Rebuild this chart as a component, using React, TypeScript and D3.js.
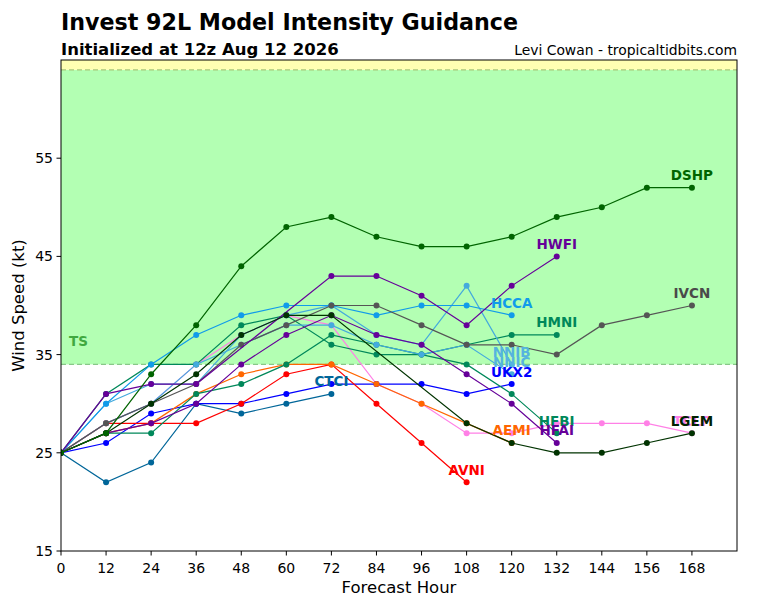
import React from "react";
import * as d3 from "d3";

const HOURS = [0, 12, 24, 36, 48, 60, 72, 84, 96, 108, 120, 132, 144, 156, 168];
const X_TICKS = [0, 12, 24, 36, 48, 60, 72, 84, 96, 108, 120, 132, 144, 156, 168];
const Y_TICKS = [15, 25, 35, 45, 55];

const TCLP = [25, 28, 30, 34, 37, 39, 38, 32, 30, 27, 27, 28, 28, 28, 27];
const CTCI = [25, 22, 24, 30, 29, 30, 31];
const UKX2 = [25, 26, 29, 30, 30, 31, 32, 32, 32, 31, 32];
const AVNI = [25, 28, 28, 28, 30, 33, 34, 30, 26, 22];
const AEMI = [25, 27, 28, 31, 33, 34, 34, 32, 30, 28, 26];
const HFBI = [25, 27, 27, 31, 32, 34, 37, 36, 35, 34, 31, 27];
const HMNI = [25, 31, 34, 34, 38, 39, 36, 35, 35, 36, 37, 37];
const NNIC = [25, 28, 30, 34, 36, 38, 38, 36, 35, 36, 33];
const NNIB = [25, 30, 32, 32, 37, 39, 40, 37, 36, 42, 34];
const HCCA = [25, 30, 34, 37, 39, 40, 40, 39, 40, 40, 39];
const IVCN = [25, 28, 30, 32, 36, 38, 40, 40, 38, 36, 36, 35, 38, 39, 40];
const HFAI = [25, 27, 28, 30, 34, 37, 39, 37, 36, 33, 30, 26];
const HWFI = [25, 31, 32, 32, null, null, 43, 43, 41, 38, 42, 45];
const LGEM = [25, 27, 30, 33, 37, 39, 39, null, null, 28, 26, 25, 25, 26, 27];
const DSHP = [25, 27, 33, 38, 44, 48, 49, 47, 46, 46, 47, 49, 50, 52, 52];

const MODELS: { name: string; values: (number | null)[]; color: string; label: string }[] = [
  { name: "TCLP", values: TCLP, color: "#ff80e6", label: "#ff80e6" },
  { name: "CTCI", values: CTCI, color: "#006699", label: "#006699" },
  { name: "UKX2", values: UKX2, color: "#0000ff", label: "#0000ff" },
  { name: "AVNI", values: AVNI, color: "#ff0000", label: "#ff0000" },
  { name: "AEMI", values: AEMI, color: "#ff6600", label: "#ff6600" },
  { name: "HFBI", values: HFBI, color: "#00885a", label: "#00885a" },
  { name: "HMNI", values: HMNI, color: "#00885a", label: "#00885a" },
  { name: "NNIC", values: NNIC, color: "#44aadd", label: "#55b4de" },
  { name: "NNIB", values: NNIB, color: "#44aadd", label: "#55b4de" },
  { name: "HCCA", values: HCCA, color: "#119bea", label: "#119bea" },
  { name: "IVCN", values: IVCN, color: "#555555", label: "#4a4a4a" },
  { name: "HFAI", values: HFAI, color: "#660099", label: "#660099" },
  { name: "HWFI", values: HWFI, color: "#660099", label: "#660099" },
  { name: "LGEM", values: LGEM, color: "#003300", label: "#002200" },
  { name: "DSHP", values: DSHP, color: "#006400", label: "#006400" },
];

const W = 768;
const H = 600;
const L = 61;
const R = 737;
const T = 60;
const B = 551;
const FONT = "'DejaVu Sans', sans-serif";

export default function App() {
  const x = d3.scaleLinear().domain([0, 180]).range([L, R]);
  const y = d3.scaleLinear().domain([15, 65]).range([B, T]);
  const line = d3
    .line<[number, number]>()
    .x((d) => x(d[0]))
    .y((d) => y(d[1]));

  const series = MODELS.map((m) => {
    const pts: [number, number][] = [];
    m.values.forEach((v, i) => {
      if (v !== null) pts.push([HOURS[i], v]);
    });
    return { ...m, pts };
  });

  return (
    <svg
      width={W}
      height={H}
      style={{ position: "absolute", left: 0, top: 0, background: "#fff" }}
      fontFamily={FONT}
    >
      <rect x={0} y={0} width={W} height={H} fill="#fff" />
      <text x={61} y={30} fontSize={22.2} fontWeight="bold" fill="#000">
        Invest 92L Model Intensity Guidance
      </text>
      <text x={61} y={55} fontSize={16.5} fontWeight="bold" fill="#000">
        Initialized at 12z Aug 12 2026
      </text>
      <text x={737} y={55} fontSize={13.9} textAnchor="end" fill="#000">
        Levi Cowan - tropicaltidbits.com
      </text>

      <defs>
        <clipPath id="plot">
          <rect x={L} y={T} width={R - L} height={B - T} />
        </clipPath>
      </defs>

      <g clipPath="url(#plot)">
        <rect x={L} y={y(64)} width={R - L} height={y(34) - y(64)} fill="#b3ffb3" />
        <rect x={L} y={T} width={R - L} height={y(64) - T} fill="#ffffb3" />
        <line x1={L} x2={R} y1={y(34)} y2={y(34)} stroke="#88c888" strokeWidth={1.2} strokeDasharray="5,3" />
        <line x1={L} x2={R} y1={y(64)} y2={y(64)} stroke="#a8c878" strokeWidth={1.2} strokeDasharray="5,3" />
        <text x={69} y={y(34) - 23} fontSize={13.5} fontWeight="bold" fill="#40a840" dominantBaseline="central">
          TS
        </text>

        {series.map((m) => (
          <g key={m.name}>
            <path d={line(m.pts) || ""} fill="none" stroke={m.color} strokeWidth={1.2} />
            {m.pts.map((p, i) => (
              <circle key={i} cx={x(p[0])} cy={y(p[1])} r={3} fill={m.color} />
            ))}
          </g>
        ))}
        {series.map((m) => {
          const last = m.pts[m.pts.length - 1];
          return (
            <text
              key={m.name + "-l"}
              x={x(last[0])}
              y={y(last[1]) - 12.5}
              fontSize={13.5}
              fontWeight="bold"
              fill={m.label}
              textAnchor="middle"
              dominantBaseline="central"
            >
              {m.name}
            </text>
          );
        })}
      </g>

      <rect x={L} y={T} width={R - L} height={B - T} fill="none" stroke="#000" strokeWidth={1} />

      {X_TICKS.map((t) => (
        <g key={"x" + t}>
          <line x1={x(t)} x2={x(t)} y1={B} y2={B + 4.5} stroke="#000" />
          <text x={x(t)} y={B + 22} fontSize={14} textAnchor="middle" fill="#000">
            {t}
          </text>
        </g>
      ))}
      {Y_TICKS.map((t) => (
        <g key={"y" + t}>
          <line x1={L - 4.5} x2={L} y1={y(t)} y2={y(t)} stroke="#000" />
          <text x={L - 8} y={y(t)} fontSize={14} textAnchor="end" dominantBaseline="central" fill="#000">
            {t}
          </text>
        </g>
      ))}
      <text x={(L + R) / 2} y={593} fontSize={16.5} textAnchor="middle" fill="#000">
        Forecast Hour
      </text>
      <text
        transform={`translate(24, ${(T + B) / 2}) rotate(-90)`}
        fontSize={16.5}
        textAnchor="middle"
        fill="#000"
      >
        Wind Speed (kt)
      </text>
    </svg>
  );
}
